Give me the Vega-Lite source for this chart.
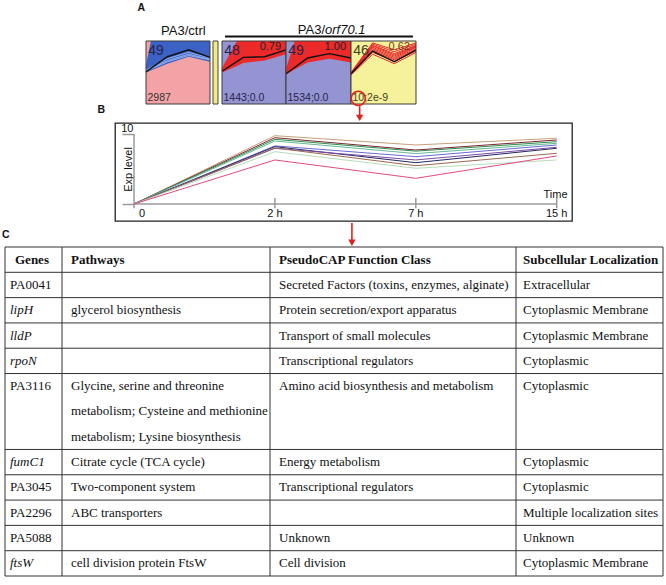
{
"$schema": "https://vega.github.io/schema/vega-lite/v6.json",
"padding": 0,
"background": "white",
"spacing": 0,
"config": {"font": "Liberation Sans", "view": {"stroke": null}, "axis": {"grid": false}},
"datasets": {
 "expr": [
  {"gene":"PA0041","time":"0","value":0},{"gene":"PA0041","time":"2 h","value":9.76},{"gene":"PA0041","time":"7 h","value":8.43},{"gene":"PA0041","time":"15 h","value":9.39},
  {"gene":"lipH","time":"0","value":0},{"gene":"lipH","time":"2 h","value":9.47},{"gene":"lipH","time":"7 h","value":7.71},{"gene":"lipH","time":"15 h","value":9.14},
  {"gene":"lldP","time":"0","value":0},{"gene":"lldP","time":"2 h","value":9.24},{"gene":"lldP","time":"7 h","value":7.55},{"gene":"lldP","time":"15 h","value":8.9},
  {"gene":"rpoN","time":"0","value":0},{"gene":"rpoN","time":"2 h","value":9.0},{"gene":"rpoN","time":"7 h","value":7.2},{"gene":"rpoN","time":"15 h","value":8.67},
  {"gene":"PA3116","time":"0","value":0},{"gene":"PA3116","time":"2 h","value":8.3},{"gene":"PA3116","time":"7 h","value":6.76},{"gene":"PA3116","time":"15 h","value":8.43},
  {"gene":"fumC1","time":"0","value":0},{"gene":"fumC1","time":"2 h","value":8.19},{"gene":"fumC1","time":"7 h","value":5.9},{"gene":"fumC1","time":"15 h","value":7.96},
  {"gene":"PA3045","time":"0","value":0},{"gene":"PA3045","time":"2 h","value":7.96},{"gene":"PA3045","time":"7 h","value":6.29},{"gene":"PA3045","time":"15 h","value":8.1},
  {"gene":"PA2296","time":"0","value":0},{"gene":"PA2296","time":"2 h","value":8.0},{"gene":"PA2296","time":"7 h","value":5.47},{"gene":"PA2296","time":"15 h","value":7.24},
  {"gene":"PA5088","time":"0","value":0},{"gene":"PA5088","time":"2 h","value":7.47},{"gene":"PA5088","time":"7 h","value":5.1},{"gene":"PA5088","time":"15 h","value":6.29},
  {"gene":"ftsW","time":"0","value":0},{"gene":"ftsW","time":"2 h","value":6.29},{"gene":"ftsW","time":"7 h","value":3.67},{"gene":"ftsW","time":"15 h","value":6.86}
 ],
 "times": [{"time":"0"},{"time":"2 h"},{"time":"7 h"},{"time":"15 h"}],
 "bands": [
  {"tile":1,"t":0,"lo":0.50,"hi":0.62},{"tile":1,"t":0.23,"lo":0.532,"hi":1},{"tile":1,"t":1,"lo":0.64,"hi":1},{"tile":1,"t":2,"lo":0.75,"hi":1},{"tile":1,"t":3,"lo":0.67,"hi":1},
  {"tile":2,"t":0,"lo":0.50,"hi":0.57},{"tile":2,"t":0.7,"lo":0.605,"hi":1},{"tile":2,"t":1,"lo":0.65,"hi":1},{"tile":2,"t":2,"lo":0.69,"hi":1},{"tile":2,"t":3,"lo":0.79,"hi":1},
  {"tile":3,"t":0,"lo":0.47,"hi":0.56},{"tile":3,"t":0.4,"lo":0.546,"hi":1},{"tile":3,"t":1,"lo":0.66,"hi":1},{"tile":3,"t":2,"lo":0.72,"hi":1},{"tile":3,"t":3,"lo":0.66,"hi":1}
 ],
 "means": [
  {"tile":1,"t":0,"v":0.51},{"tile":1,"t":1,"v":0.75},{"tile":1,"t":2,"v":0.86},{"tile":1,"t":3,"v":0.74},
  {"tile":2,"t":0,"v":0.52},{"tile":2,"t":1,"v":0.74},{"tile":2,"t":2,"v":0.75},{"tile":2,"t":3,"v":0.86},
  {"tile":3,"t":0,"v":0.48},{"tile":3,"t":1,"v":0.73},{"tile":3,"t":2,"v":0.80},{"tile":3,"t":3,"v":0.73},
  {"tile":4,"t":0,"v":0.48},{"tile":4,"t":1,"v":0.84},{"tile":4,"t":2,"v":0.67},{"tile":4,"t":3,"v":0.86}
 ],
 "members": [
  {"tile":1,"s":"a","t":0,"v":0.53},{"tile":1,"s":"a","t":1,"v":0.69},{"tile":1,"s":"a","t":2,"v":0.79},{"tile":1,"s":"a","t":3,"v":0.71},
  {"tile":1,"s":"b","t":0,"v":0.52},{"tile":1,"s":"b","t":1,"v":0.67},{"tile":1,"s":"b","t":2,"v":0.77},{"tile":1,"s":"b","t":3,"v":0.70},
  {"tile":1,"s":"c","t":0,"v":0.54},{"tile":1,"s":"c","t":1,"v":0.72},{"tile":1,"s":"c","t":2,"v":0.82},{"tile":1,"s":"c","t":3,"v":0.73},
  {"tile":4,"s":"r1","t":0,"v":0.50},{"tile":4,"s":"r1","t":1,"v":0.97},{"tile":4,"s":"r1","t":2,"v":0.86},{"tile":4,"s":"r1","t":3,"v":0.97},
  {"tile":4,"s":"r2","t":0,"v":0.49},{"tile":4,"s":"r2","t":1,"v":0.95},{"tile":4,"s":"r2","t":2,"v":0.83},{"tile":4,"s":"r2","t":3,"v":0.95},
  {"tile":4,"s":"r3","t":0,"v":0.49},{"tile":4,"s":"r3","t":1,"v":0.93},{"tile":4,"s":"r3","t":2,"v":0.80},{"tile":4,"s":"r3","t":3,"v":0.93},
  {"tile":4,"s":"r4","t":0,"v":0.48},{"tile":4,"s":"r4","t":1,"v":0.92},{"tile":4,"s":"r4","t":2,"v":0.78},{"tile":4,"s":"r4","t":3,"v":0.92},
  {"tile":4,"s":"r5","t":0,"v":0.48},{"tile":4,"s":"r5","t":1,"v":0.90},{"tile":4,"s":"r5","t":2,"v":0.76},{"tile":4,"s":"r5","t":3,"v":0.91},
  {"tile":4,"s":"r6","t":0,"v":0.48},{"tile":4,"s":"r6","t":1,"v":0.88},{"tile":4,"s":"r6","t":2,"v":0.74},{"tile":4,"s":"r6","t":3,"v":0.90},
  {"tile":4,"s":"r7","t":0,"v":0.47},{"tile":4,"s":"r7","t":1,"v":0.86},{"tile":4,"s":"r7","t":2,"v":0.72},{"tile":4,"s":"r7","t":3,"v":0.88},
  {"tile":4,"s":"r8","t":0,"v":0.47},{"tile":4,"s":"r8","t":1,"v":0.84},{"tile":4,"s":"r8","t":2,"v":0.70},{"tile":4,"s":"r8","t":3,"v":0.86},
  {"tile":4,"s":"r9","t":0,"v":0.47},{"tile":4,"s":"r9","t":1,"v":0.82},{"tile":4,"s":"r9","t":2,"v":0.68},{"tile":4,"s":"r9","t":3,"v":0.84},
  {"tile":4,"s":"r10","t":0,"v":0.46},{"tile":4,"s":"r10","t":1,"v":0.79},{"tile":4,"s":"r10","t":2,"v":0.64},{"tile":4,"s":"r10","t":3,"v":0.82}
 ],
 "tiles": [
  {"tile":1,"n":"49","corr":"","stat":"2987"},
  {"tile":2,"n":"48","corr":"0.79","stat":"1443;0.0"},
  {"tile":3,"n":"49","corr":"1.00","stat":"1534;0.0"},
  {"tile":4,"n":"46","corr":"0.62","stat":"10;2e-9"}
 ],
 "table": [
  {"line":0,"col":1,"text":"Genes"},{"line":0,"col":2,"text":"Pathways"},{"line":0,"col":3,"text":"PseudoCAP Function Class"},{"line":0,"col":4,"text":"Subcellular Localization"},
  {"line":1,"col":1,"text":"PA0041"},{"line":1,"col":3,"text":"Secreted Factors (toxins, enzymes, alginate)"},{"line":1,"col":4,"text":"Extracellular"},
  {"line":2,"col":1,"text":"lipH"},{"line":2,"col":2,"text":"glycerol biosynthesis"},{"line":2,"col":3,"text":"Protein secretion/export apparatus"},{"line":2,"col":4,"text":"Cytoplasmic Membrane"},
  {"line":3,"col":1,"text":"lldP"},{"line":3,"col":3,"text":"Transport of small molecules"},{"line":3,"col":4,"text":"Cytoplasmic Membrane"},
  {"line":4,"col":1,"text":"rpoN"},{"line":4,"col":3,"text":"Transcriptional regulators"},{"line":4,"col":4,"text":"Cytoplasmic"},
  {"line":5,"col":1,"text":"PA3116"},{"line":5,"col":2,"text":"Glycine, serine and threonine"},{"line":5,"col":3,"text":"Amino acid biosynthesis and metabolism"},{"line":5,"col":4,"text":"Cytoplasmic"},
  {"line":6,"col":2,"text":"metabolism; Cysteine and methionine"},
  {"line":7,"col":2,"text":"metabolism; Lysine biosynthesis"},
  {"line":8,"col":1,"text":"fumC1"},{"line":8,"col":2,"text":"Citrate cycle (TCA cycle)"},{"line":8,"col":3,"text":"Energy metabolism"},{"line":8,"col":4,"text":"Cytoplasmic"},
  {"line":9,"col":1,"text":"PA3045"},{"line":9,"col":2,"text":"Two-component system"},{"line":9,"col":3,"text":"Transcriptional regulators"},{"line":9,"col":4,"text":"Cytoplasmic"},
  {"line":10,"col":1,"text":"PA2296"},{"line":10,"col":2,"text":"ABC transporters"},{"line":10,"col":4,"text":"Multiple localization sites"},
  {"line":11,"col":1,"text":"PA5088"},{"line":11,"col":3,"text":"Unknown"},{"line":11,"col":4,"text":"Unknown"},
  {"line":12,"col":1,"text":"ftsW"},{"line":12,"col":2,"text":"cell division protein FtsW"},{"line":12,"col":3,"text":"Cell division"},{"line":12,"col":4,"text":"Cytoplasmic Membrane"}
 ]
},
"vconcat": [
 {"spacing": 0, "bounds": "flush", "hconcat": [
  {"width": 146, "height": 122,
   "layer": [
    {"data": {"name": "tiles"}, "transform": [{"filter": "datum.tile == 1"}], "mark": {"type": "text", "text": "A", "align": "right", "baseline": "alphabetic", "fontSize": 10.5, "fontWeight": "bold", "color": "#111"},
     "encoding": {"x": {"datum": 0.993, "scale": {"domain": [0, 1], "nice": false, "zero": false}, "axis": null}, "y": {"datum": 1.481, "scale": {"domain": [-0.2857, 1.6508], "nice": false, "zero": false}, "axis": null}}},
    {"data": {"name": "tiles"}, "transform": [{"filter": "datum.tile == 1"}], "mark": {"type": "text", "text": "B", "align": "right", "baseline": "alphabetic", "fontSize": 10.5, "fontWeight": "bold", "color": "#111"},
     "encoding": {"x": {"datum": 0.719, "axis": null}, "y": {"datum": -0.135, "axis": null}}}
   ]},
  {"width": 64, "height": 122,
   "layer": [
    {"data": {"name": "tiles"}, "transform": [{"filter": "datum.tile == 1"}], "mark": {"type": "rect", "fill": "#f3a3a6"},
     "encoding": {"x": {"datum": 0, "scale": {"domain": [0, 3], "nice": false, "zero": false}, "axis": null}, "x2": {"datum": 3},
                  "y": {"datum": 0, "scale": {"domain": [-0.2857, 1.6508], "nice": false, "zero": false}, "axis": null}, "y2": {"datum": 1}}},
    {"data": {"name": "bands"}, "transform": [{"filter": "datum.tile == 1"}], "mark": {"type": "area", "color": "#3c62c6", "opacity": 1},
     "encoding": {"x": {"field": "t", "type": "quantitative", "axis": null}, "y": {"field": "hi", "type": "quantitative", "axis": null}, "y2": {"field": "lo"}}},
    {"data": {"name": "members"}, "transform": [{"filter": "datum.tile == 1"}], "mark": {"type": "line", "color": "#a8c2f2", "strokeWidth": 0.8},
     "encoding": {"x": {"field": "t", "type": "quantitative", "axis": null}, "y": {"field": "v", "type": "quantitative", "axis": null}, "detail": {"field": "s"}}},
    {"data": {"name": "means"}, "transform": [{"filter": "datum.tile == 1"}], "mark": {"type": "line", "color": "#111", "strokeWidth": 1.4},
     "encoding": {"x": {"field": "t", "type": "quantitative", "axis": null}, "y": {"field": "v", "type": "quantitative", "axis": null}}},
    {"data": {"name": "tiles"}, "transform": [{"filter": "datum.tile == 1"}], "mark": {"type": "rect", "filled": false, "stroke": "#3a3a3a", "strokeWidth": 1},
     "encoding": {"x": {"datum": 0, "axis": null}, "x2": {"datum": 3}, "y": {"datum": 0, "axis": null}, "y2": {"datum": 1}}},
    {"data": {"name": "tiles"}, "transform": [{"filter": "datum.tile == 1"}], "mark": {"type": "text", "align": "left", "baseline": "alphabetic", "fontSize": 14, "color": "#25254a"},
     "encoding": {"x": {"datum": 0.1, "axis": null}, "y": {"datum": 0.77, "axis": null}, "text": {"field": "n"}}},
    {"data": {"name": "tiles"}, "transform": [{"filter": "datum.tile == 1"}], "mark": {"type": "text", "align": "left", "baseline": "alphabetic", "fontSize": 10.5, "color": "#333"},
     "encoding": {"x": {"datum": 0.07, "axis": null}, "y": {"datum": 0.05, "axis": null}, "text": {"field": "stat"}}},
    {"data": {"name": "tiles"}, "transform": [{"filter": "datum.tile == 1"}], "mark": {"type": "text", "text": "PA3/ctrl", "align": "center", "baseline": "alphabetic", "fontSize": 13, "color": "#111"},
     "encoding": {"x": {"datum": 1.75, "axis": null}, "y": {"datum": 1.095, "axis": null}}}
   ]},
  {"width": 3, "height": 122, "data": {"values": [{}]}, "mark": {"type": "text", "text": ""}, "encoding": {}},
  {"width": 5, "height": 122,
   "layer": [
    {"data": {"name": "tiles"}, "transform": [{"filter": "datum.tile == 1"}], "mark": {"type": "rect", "fill": "#f2ec7e", "stroke": "#444", "strokeWidth": 1},
     "encoding": {"x": {"datum": 0, "scale": {"domain": [0, 1], "nice": false, "zero": false}, "axis": null}, "x2": {"datum": 1},
                  "y": {"datum": 0, "scale": {"domain": [-0.2857, 1.6508], "nice": false, "zero": false}, "axis": null}, "y2": {"datum": 1}}}
   ]},
  {"width": 4, "height": 122, "data": {"values": [{}]}, "mark": {"type": "text", "text": ""}, "encoding": {}},
  {"width": 64, "height": 122,
   "layer": [
    {"data": {"name": "tiles"}, "transform": [{"filter": "datum.tile == 2"}], "mark": {"type": "rect", "fill": "#9494d2"},
     "encoding": {"x": {"datum": 0, "scale": {"domain": [0, 3], "nice": false, "zero": false}, "axis": null}, "x2": {"datum": 3},
                  "y": {"datum": 0, "scale": {"domain": [-0.2857, 1.6508], "nice": false, "zero": false}, "axis": null}, "y2": {"datum": 1}}},
    {"data": {"name": "bands"}, "transform": [{"filter": "datum.tile == 2"}], "mark": {"type": "area", "color": "#ec2a2a", "opacity": 1},
     "encoding": {"x": {"field": "t", "type": "quantitative", "axis": null}, "y": {"field": "hi", "type": "quantitative", "axis": null}, "y2": {"field": "lo"}}},
    {"data": {"name": "means"}, "transform": [{"filter": "datum.tile == 2"}], "mark": {"type": "line", "color": "#111", "strokeWidth": 1.4},
     "encoding": {"x": {"field": "t", "type": "quantitative", "axis": null}, "y": {"field": "v", "type": "quantitative", "axis": null}}},
    {"data": {"name": "tiles"}, "transform": [{"filter": "datum.tile == 2"}], "mark": {"type": "rect", "filled": false, "stroke": "#3a3a3a", "strokeWidth": 1},
     "encoding": {"x": {"datum": 0, "axis": null}, "x2": {"datum": 3}, "y": {"datum": 0, "axis": null}, "y2": {"datum": 1}}},
    {"data": {"name": "tiles"}, "transform": [{"filter": "datum.tile == 2"}], "mark": {"type": "text", "align": "left", "baseline": "alphabetic", "fontSize": 14, "color": "#25254a"},
     "encoding": {"x": {"datum": 0.1, "axis": null}, "y": {"datum": 0.77, "axis": null}, "text": {"field": "n"}}},
    {"data": {"name": "tiles"}, "transform": [{"filter": "datum.tile == 2"}], "mark": {"type": "text", "align": "right", "baseline": "alphabetic", "fontSize": 11, "color": "#222"},
     "encoding": {"x": {"datum": 2.77, "axis": null}, "y": {"datum": 0.857, "axis": null}, "text": {"field": "corr"}}},
    {"data": {"name": "tiles"}, "transform": [{"filter": "datum.tile == 2"}], "mark": {"type": "text", "align": "left", "baseline": "alphabetic", "fontSize": 10.5, "color": "#25254a"},
     "encoding": {"x": {"datum": 0.07, "axis": null}, "y": {"datum": 0.05, "axis": null}, "text": {"field": "stat"}}},
    {"data": {"name": "tiles"}, "transform": [{"filter": "datum.tile == 2"}], "mark": {"type": "rule", "color": "#111", "strokeWidth": 2},
     "encoding": {"x": {"datum": 0.14, "axis": null}, "x2": {"datum": 3}, "y": {"datum": 1.071, "axis": null}}}
   ]},
  {"width": 65, "height": 122,
   "layer": [
    {"data": {"name": "tiles"}, "transform": [{"filter": "datum.tile == 3"}], "mark": {"type": "rect", "fill": "#9494d2"},
     "encoding": {"x": {"datum": 0, "scale": {"domain": [0, 3], "nice": false, "zero": false}, "axis": null}, "x2": {"datum": 3},
                  "y": {"datum": 0, "scale": {"domain": [-0.2857, 1.6508], "nice": false, "zero": false}, "axis": null}, "y2": {"datum": 1}}},
    {"data": {"name": "bands"}, "transform": [{"filter": "datum.tile == 3"}], "mark": {"type": "area", "color": "#ec2a2a", "opacity": 1},
     "encoding": {"x": {"field": "t", "type": "quantitative", "axis": null}, "y": {"field": "hi", "type": "quantitative", "axis": null}, "y2": {"field": "lo"}}},
    {"data": {"name": "means"}, "transform": [{"filter": "datum.tile == 3"}], "mark": {"type": "line", "color": "#111", "strokeWidth": 1.4},
     "encoding": {"x": {"field": "t", "type": "quantitative", "axis": null}, "y": {"field": "v", "type": "quantitative", "axis": null}}},
    {"data": {"name": "tiles"}, "transform": [{"filter": "datum.tile == 3"}], "mark": {"type": "rect", "filled": false, "stroke": "#3a3a3a", "strokeWidth": 1},
     "encoding": {"x": {"datum": 0, "axis": null}, "x2": {"datum": 3}, "y": {"datum": 0, "axis": null}, "y2": {"datum": 1}}},
    {"data": {"name": "tiles"}, "transform": [{"filter": "datum.tile == 3"}], "mark": {"type": "text", "align": "left", "baseline": "alphabetic", "fontSize": 14, "color": "#25254a"},
     "encoding": {"x": {"datum": 0.1, "axis": null}, "y": {"datum": 0.77, "axis": null}, "text": {"field": "n"}}},
    {"data": {"name": "tiles"}, "transform": [{"filter": "datum.tile == 3"}], "mark": {"type": "text", "align": "right", "baseline": "alphabetic", "fontSize": 11, "color": "#222"},
     "encoding": {"x": {"datum": 2.77, "axis": null}, "y": {"datum": 0.857, "axis": null}, "text": {"field": "corr"}}},
    {"data": {"name": "tiles"}, "transform": [{"filter": "datum.tile == 3"}], "mark": {"type": "text", "align": "left", "baseline": "alphabetic", "fontSize": 10.5, "color": "#25254a"},
     "encoding": {"x": {"datum": 0.07, "axis": null}, "y": {"datum": 0.05, "axis": null}, "text": {"field": "stat"}}},
    {"data": {"name": "tiles"}, "transform": [{"filter": "datum.tile == 3"}], "mark": {"type": "rule", "color": "#111", "strokeWidth": 2},
     "encoding": {"x": {"datum": 0, "axis": null}, "x2": {"datum": 3}, "y": {"datum": 1.071, "axis": null}}},
    {"data": {"name": "tiles"}, "transform": [{"filter": "datum.tile == 3"}], "mark": {"type": "text", "text": "PA3/", "align": "right", "baseline": "alphabetic", "fontSize": 13, "color": "#111"},
     "encoding": {"x": {"datum": 1.8, "axis": null}, "y": {"datum": 1.111, "axis": null}}},
    {"data": {"name": "tiles"}, "transform": [{"filter": "datum.tile == 3"}], "mark": {"type": "text", "text": "orf70.1", "align": "left", "baseline": "alphabetic", "fontSize": 13, "fontStyle": "italic", "color": "#111"},
     "encoding": {"x": {"datum": 1.8, "axis": null}, "y": {"datum": 1.111, "axis": null}}}
   ]},
  {"width": 65, "height": 122,
   "layer": [
    {"data": {"name": "tiles"}, "transform": [{"filter": "datum.tile == 4"}], "mark": {"type": "rect", "fill": "#f6f29c"},
     "encoding": {"x": {"datum": 0, "scale": {"domain": [0, 3], "nice": false, "zero": false}, "axis": null}, "x2": {"datum": 3},
                  "y": {"datum": 0, "scale": {"domain": [-0.2857, 1.6508], "nice": false, "zero": false}, "axis": null}, "y2": {"datum": 1}}},
    {"data": {"name": "members"}, "transform": [{"filter": "datum.tile == 4"}], "mark": {"type": "line", "color": "#e8262b", "strokeWidth": 1},
     "encoding": {"x": {"field": "t", "type": "quantitative", "axis": null}, "y": {"field": "v", "type": "quantitative", "axis": null}, "detail": {"field": "s"}}},
    {"data": {"name": "means"}, "transform": [{"filter": "datum.tile == 4"}], "mark": {"type": "line", "color": "#111", "strokeWidth": 1.4},
     "encoding": {"x": {"field": "t", "type": "quantitative", "axis": null}, "y": {"field": "v", "type": "quantitative", "axis": null}}},
    {"data": {"name": "tiles"}, "transform": [{"filter": "datum.tile == 4"}], "mark": {"type": "rect", "filled": false, "stroke": "#3a3a3a", "strokeWidth": 1},
     "encoding": {"x": {"datum": 0, "axis": null}, "x2": {"datum": 3}, "y": {"datum": 0, "axis": null}, "y2": {"datum": 1}}},
    {"data": {"name": "tiles"}, "transform": [{"filter": "datum.tile == 4"}], "mark": {"type": "text", "align": "left", "baseline": "alphabetic", "fontSize": 14, "color": "#45401c"},
     "encoding": {"x": {"datum": 0.1, "axis": null}, "y": {"datum": 0.77, "axis": null}, "text": {"field": "n"}}},
    {"data": {"name": "tiles"}, "transform": [{"filter": "datum.tile == 4"}], "mark": {"type": "text", "align": "right", "baseline": "alphabetic", "fontSize": 11, "color": "#7a3a20"},
     "encoding": {"x": {"datum": 2.72, "axis": null}, "y": {"datum": 0.857, "axis": null}, "text": {"field": "corr"}}},
    {"data": {"name": "tiles"}, "transform": [{"filter": "datum.tile == 4"}], "mark": {"type": "text", "align": "left", "baseline": "alphabetic", "fontSize": 10.5, "color": "#45401c"},
     "encoding": {"x": {"datum": 0.07, "axis": null}, "y": {"datum": 0.05, "axis": null}, "text": {"field": "stat"}}},
    {"data": {"name": "tiles"}, "transform": [{"filter": "datum.tile == 4"}], "mark": {"type": "rule", "color": "#111", "strokeWidth": 2},
     "encoding": {"x": {"datum": 0, "axis": null}, "x2": {"datum": 2.86}, "y": {"datum": 1.071, "axis": null}}},
    {"data": {"name": "tiles"}, "transform": [{"filter": "datum.tile == 4"}], "mark": {"type": "point", "shape": "circle", "filled": false, "stroke": "#e3201c", "strokeWidth": 1.6, "size": 200, "opacity": 1},
     "encoding": {"x": {"datum": 0.337, "axis": null}, "y": {"datum": 0.09, "axis": null}}},
    {"data": {"name": "tiles"}, "transform": [{"filter": "datum.tile == 4"}], "mark": {"type": "rule", "color": "#e3201c", "strokeWidth": 1.6},
     "encoding": {"x": {"datum": 0.4, "axis": null}, "y": {"datum": -0.035, "axis": null}, "y2": {"datum": -0.2}}},
    {"data": {"name": "tiles"}, "transform": [{"filter": "datum.tile == 4"}], "mark": {"type": "point", "shape": "triangle-down", "filled": true, "color": "#e3201c", "size": 55, "opacity": 1},
     "encoding": {"x": {"datum": 0.4, "axis": null}, "y": {"datum": -0.22, "axis": null}}}
   ]}
 ]},
 {"spacing": 0, "bounds": "flush", "hconcat": [
  {"width": 115, "height": 98, "data": {"values": [{}]}, "mark": {"type": "text", "text": ""}, "encoding": {}},
  {"width": 457, "height": 98, "view": {"stroke": "#222", "strokeWidth": 1.3},
   "layer": [
    {"data": {"name": "times"}, "transform": [{"filter": "datum.time == '0'"}], "mark": {"type": "rule", "color": "#9a9a9a", "strokeWidth": 1.5},
     "encoding": {"x": {"field": "time", "type": "ordinal", "sort": ["0", "2 h", "7 h", "15 h"]}, "x2": {"datum": "15 h"}, "y": {"datum": 0}}},
    {"data": {"name": "times"}, "transform": [{"filter": "datum.time == '0'"}], "mark": {"type": "rule", "color": "#9a9a9a", "strokeWidth": 1.5},
     "encoding": {"x": {"field": "time", "type": "ordinal", "sort": ["0", "2 h", "7 h", "15 h"]}, "y": {"datum": -0.6}, "y2": {"datum": 10}}},
    {"data": {"name": "times"}, "transform": [{"filter": "datum.time != '0'"}], "mark": {"type": "rule", "color": "#9a9a9a", "strokeWidth": 1.5},
     "encoding": {"x": {"field": "time", "type": "ordinal", "sort": ["0", "2 h", "7 h", "15 h"]}, "y": {"datum": -0.6}, "y2": {"datum": 0.85}}},
    {"data": {"name": "times"}, "transform": [{"filter": "datum.time == '0'"}], "mark": {"type": "text", "align": "left", "baseline": "top", "dx": 5, "fontSize": 11, "color": "#111"},
     "encoding": {"x": {"field": "time", "type": "ordinal", "sort": ["0", "2 h", "7 h", "15 h"]}, "y": {"datum": -0.55}, "text": {"field": "time"}}},
    {"data": {"name": "times"}, "transform": [{"filter": "datum.time != '0'"}], "mark": {"type": "text", "align": "center", "baseline": "top", "fontSize": 11, "color": "#111"},
     "encoding": {"x": {"field": "time", "type": "ordinal", "sort": ["0", "2 h", "7 h", "15 h"]}, "y": {"datum": -0.55}, "text": {"field": "time"}}},
    {"data": {"name": "expr"}, "mark": {"type": "line", "strokeWidth": 1, "clip": false},
     "encoding": {
      "x": {"field": "time", "type": "ordinal", "sort": ["0", "2 h", "7 h", "15 h"],
            "scale": {"type": "point", "domain": ["0", "2 h", "7 h", "15 h"], "padding": 0.1217, "align": 0.554},
            "axis": {"title": "Time", "orient": "bottom", "offset": -17, "domain": false, "ticks": false, "tickSize": 0, "labels": false,
                     "titleX": 440, "titleY": -5, "titleAlign": "center", "titleBaseline": "bottom", "titleFontSize": 11, "titleFontWeight": "normal", "titleColor": "#111", "titleFont": "Liberation Sans"}},
      "y": {"field": "value", "type": "quantitative", "scale": {"domain": [-2.43, 11.57], "nice": false, "zero": false},
            "axis": {"title": "Exp level", "orient": "left", "offset": -19, "domain": false, "values": [0, 10], "tickSize": 12, "tickColor": "#9a9a9a", "tickWidth": 1.5,
                     "labelExpr": "datum.value == 10 ? '10' : ''", "labelAlign": "right", "labelBaseline": "bottom", "labelPadding": -11, "labelFlush": false, "labelFontSize": 11, "labelColor": "#111", "labelFont": "Liberation Sans",
                     "titleX": -1, "titleY": 46, "titleAngle": 270, "titleAlign": "center", "titleBaseline": "bottom", "titleFontSize": 11, "titleFontWeight": "normal", "titleColor": "#111", "titleFont": "Liberation Sans"}},
      "color": {"field": "gene", "type": "nominal",
                "scale": {"domain": ["PA0041", "lipH", "lldP", "rpoN", "PA3116", "fumC1", "PA3045", "PA2296", "PA5088", "ftsW"],
                          "range": ["#c8a078", "#7b2432", "#2f8f4f", "#68b89a", "#6a6ad8", "#262660", "#7a4aa8", "#9a6a50", "#b8dcb8", "#e24a80"]},
                "legend": null}}}
   ]}
 ]},
 {"spacing": 0, "bounds": "flush", "hconcat": [
  {"width": 5, "height": 354,
   "layer": [
    {"data": {"name": "tiles"}, "transform": [{"filter": "datum.tile == 1"}], "mark": {"type": "text", "text": "C", "align": "left", "baseline": "alphabetic", "fontSize": 10.5, "fontWeight": "bold", "color": "#111"},
     "encoding": {"x": {"datum": 0.4, "scale": {"domain": [0, 1], "nice": false, "zero": false}, "axis": null}, "y": {"datum": -0.356, "scale": {"domain": [-0.988, 13], "reverse": true, "nice": false, "zero": false}, "axis": null}}}
   ]},
  {"width": 57, "height": 354,
   "layer": [
    {"data": {"name": "table"}, "transform": [{"filter": "datum.col == 1"}], "mark": {"type": "rule", "color": "#333", "strokeWidth": 1},
     "encoding": {"y": {"field": "line", "type": "quantitative", "scale": {"domain": [-0.988, 13], "reverse": true, "nice": false, "zero": false}, "axis": null}}},
    {"data": {"name": "table"}, "transform": [{"filter": "datum.col == 1 && datum.line == 0"}], "mark": {"type": "rule", "color": "#333", "strokeWidth": 1},
     "encoding": {"x": {"datum": 0, "scale": {"domain": [0, 1], "nice": false, "zero": false}, "axis": null}, "y": {"datum": 0, "axis": null}, "y2": {"datum": 13}}},
    {"data": {"name": "table"}, "transform": [{"filter": "datum.col == 1 && datum.line == 0"}], "mark": {"type": "rule", "color": "#333", "strokeWidth": 1},
     "encoding": {"y": {"datum": 13, "axis": null}}},
    {"data": {"name": "table"}, "transform": [{"filter": "datum.col == 1 && datum.line == 0"}], "mark": {"type": "text", "align": "left", "baseline": "middle", "dx": 10, "dy": 12.65, "font": "Liberation Serif", "fontSize": 13, "fontWeight": "bold", "color": "#111"},
     "encoding": {"x": {"datum": 0, "axis": null}, "y": {"field": "line", "type": "quantitative", "axis": null}, "text": {"field": "text"}}},
    {"data": {"name": "table"}, "transform": [{"filter": "datum.col == 1 && datum.line > 0 && test(/^PA/, datum.text)"}], "mark": {"type": "text", "align": "left", "baseline": "middle", "dx": 5, "dy": 12.65, "font": "Liberation Serif", "fontSize": 13, "color": "#111"},
     "encoding": {"x": {"datum": 0, "axis": null}, "y": {"field": "line", "type": "quantitative", "axis": null}, "text": {"field": "text"}}},
    {"data": {"name": "table"}, "transform": [{"filter": "datum.col == 1 && datum.line > 0 && !test(/^PA/, datum.text)"}], "mark": {"type": "text", "align": "left", "baseline": "middle", "dx": 5, "dy": 12.65, "font": "Liberation Serif", "fontSize": 13, "fontStyle": "italic", "color": "#111"},
     "encoding": {"x": {"datum": 0, "axis": null}, "y": {"field": "line", "type": "quantitative", "axis": null}, "text": {"field": "text"}}}
   ]},
  {"width": 208, "height": 354,
   "layer": [
    {"data": {"name": "table"}, "transform": [{"filter": "datum.col == 1"}], "mark": {"type": "rule", "color": "#333", "strokeWidth": 1},
     "encoding": {"y": {"field": "line", "type": "quantitative", "scale": {"domain": [-0.988, 13], "reverse": true, "nice": false, "zero": false}, "axis": null}}},
    {"data": {"name": "table"}, "transform": [{"filter": "datum.col == 1 && datum.line == 0"}], "mark": {"type": "rule", "color": "#333", "strokeWidth": 1},
     "encoding": {"x": {"datum": 0, "scale": {"domain": [0, 1], "nice": false, "zero": false}, "axis": null}, "y": {"datum": 0, "axis": null}, "y2": {"datum": 13}}},
    {"data": {"name": "table"}, "transform": [{"filter": "datum.col == 1 && datum.line == 0"}], "mark": {"type": "rule", "color": "#333", "strokeWidth": 1},
     "encoding": {"y": {"datum": 13, "axis": null}}},
    {"data": {"name": "table"}, "transform": [{"filter": "datum.col == 2 && datum.line == 0"}], "mark": {"type": "text", "align": "left", "baseline": "middle", "dx": 9, "dy": 12.65, "font": "Liberation Serif", "fontSize": 13, "fontWeight": "bold", "color": "#111"},
     "encoding": {"x": {"datum": 0, "axis": null}, "y": {"field": "line", "type": "quantitative", "axis": null}, "text": {"field": "text"}}},
    {"data": {"name": "table"}, "transform": [{"filter": "datum.col == 2 && datum.line > 0"}], "mark": {"type": "text", "align": "left", "baseline": "middle", "dx": 9, "dy": 12.65, "font": "Liberation Serif", "fontSize": 13, "color": "#111"},
     "encoding": {"x": {"datum": 0, "axis": null}, "y": {"field": "line", "type": "quantitative", "axis": null}, "text": {"field": "text"}}}
   ]},
  {"width": 246, "height": 354,
   "layer": [
    {"data": {"name": "table"}, "transform": [{"filter": "datum.col == 1"}], "mark": {"type": "rule", "color": "#333", "strokeWidth": 1},
     "encoding": {"y": {"field": "line", "type": "quantitative", "scale": {"domain": [-0.988, 13], "reverse": true, "nice": false, "zero": false}, "axis": null}}},
    {"data": {"name": "table"}, "transform": [{"filter": "datum.col == 1 && datum.line == 0"}], "mark": {"type": "rule", "color": "#333", "strokeWidth": 1},
     "encoding": {"x": {"datum": 0, "scale": {"domain": [0, 1], "nice": false, "zero": false}, "axis": null}, "y": {"datum": 0, "axis": null}, "y2": {"datum": 13}}},
    {"data": {"name": "table"}, "transform": [{"filter": "datum.col == 1 && datum.line == 0"}], "mark": {"type": "rule", "color": "#333", "strokeWidth": 1},
     "encoding": {"y": {"datum": 13, "axis": null}}},
    {"data": {"name": "table"}, "transform": [{"filter": "datum.col == 3 && datum.line == 0"}], "mark": {"type": "text", "align": "left", "baseline": "middle", "dx": 9, "dy": 12.65, "font": "Liberation Serif", "fontSize": 13, "fontWeight": "bold", "color": "#111"},
     "encoding": {"x": {"datum": 0, "axis": null}, "y": {"field": "line", "type": "quantitative", "axis": null}, "text": {"field": "text"}}},
    {"data": {"name": "table"}, "transform": [{"filter": "datum.col == 3 && datum.line > 0"}], "mark": {"type": "text", "align": "left", "baseline": "middle", "dx": 9, "dy": 12.65, "font": "Liberation Serif", "fontSize": 13, "color": "#111"},
     "encoding": {"x": {"datum": 0, "axis": null}, "y": {"field": "line", "type": "quantitative", "axis": null}, "text": {"field": "text"}}},
    {"data": {"name": "table"}, "transform": [{"filter": "datum.col == 3 && datum.line == 0"}], "mark": {"type": "rule", "color": "#e3201c", "strokeWidth": 1.6},
     "encoding": {"x": {"datum": 0.333, "axis": null}, "y": {"datum": -0.95, "axis": null}, "y2": {"datum": -0.2}}},
    {"data": {"name": "table"}, "transform": [{"filter": "datum.col == 3 && datum.line == 0"}], "mark": {"type": "point", "shape": "triangle-down", "filled": true, "color": "#e3201c", "size": 55, "opacity": 1},
     "encoding": {"x": {"datum": 0.333, "axis": null}, "y": {"datum": -0.17, "axis": null}}}
   ]},
  {"width": 147, "height": 354,
   "layer": [
    {"data": {"name": "table"}, "transform": [{"filter": "datum.col == 1"}], "mark": {"type": "rule", "color": "#333", "strokeWidth": 1},
     "encoding": {"y": {"field": "line", "type": "quantitative", "scale": {"domain": [-0.988, 13], "reverse": true, "nice": false, "zero": false}, "axis": null}}},
    {"data": {"name": "table"}, "transform": [{"filter": "datum.col == 1 && datum.line == 0"}], "mark": {"type": "rule", "color": "#333", "strokeWidth": 1},
     "encoding": {"x": {"datum": 0, "scale": {"domain": [0, 1], "nice": false, "zero": false}, "axis": null}, "y": {"datum": 0, "axis": null}, "y2": {"datum": 13}}},
    {"data": {"name": "table"}, "transform": [{"filter": "datum.col == 1 && datum.line == 0"}], "mark": {"type": "rule", "color": "#333", "strokeWidth": 1},
     "encoding": {"x": {"datum": 1, "axis": null}, "y": {"datum": 0, "axis": null}, "y2": {"datum": 13}}},
    {"data": {"name": "table"}, "transform": [{"filter": "datum.col == 1 && datum.line == 0"}], "mark": {"type": "rule", "color": "#333", "strokeWidth": 1},
     "encoding": {"y": {"datum": 13, "axis": null}}},
    {"data": {"name": "table"}, "transform": [{"filter": "datum.col == 4 && datum.line == 0"}], "mark": {"type": "text", "align": "left", "baseline": "middle", "dx": 7, "dy": 12.65, "font": "Liberation Serif", "fontSize": 13, "fontWeight": "bold", "color": "#111"},
     "encoding": {"x": {"datum": 0, "axis": null}, "y": {"field": "line", "type": "quantitative", "axis": null}, "text": {"field": "text"}}},
    {"data": {"name": "table"}, "transform": [{"filter": "datum.col == 4 && datum.line > 0"}], "mark": {"type": "text", "align": "left", "baseline": "middle", "dx": 7, "dy": 12.65, "font": "Liberation Serif", "fontSize": 13, "color": "#111"},
     "encoding": {"x": {"datum": 0, "axis": null}, "y": {"field": "line", "type": "quantitative", "axis": null}, "text": {"field": "text"}}}
   ]}
 ]}
]
}
